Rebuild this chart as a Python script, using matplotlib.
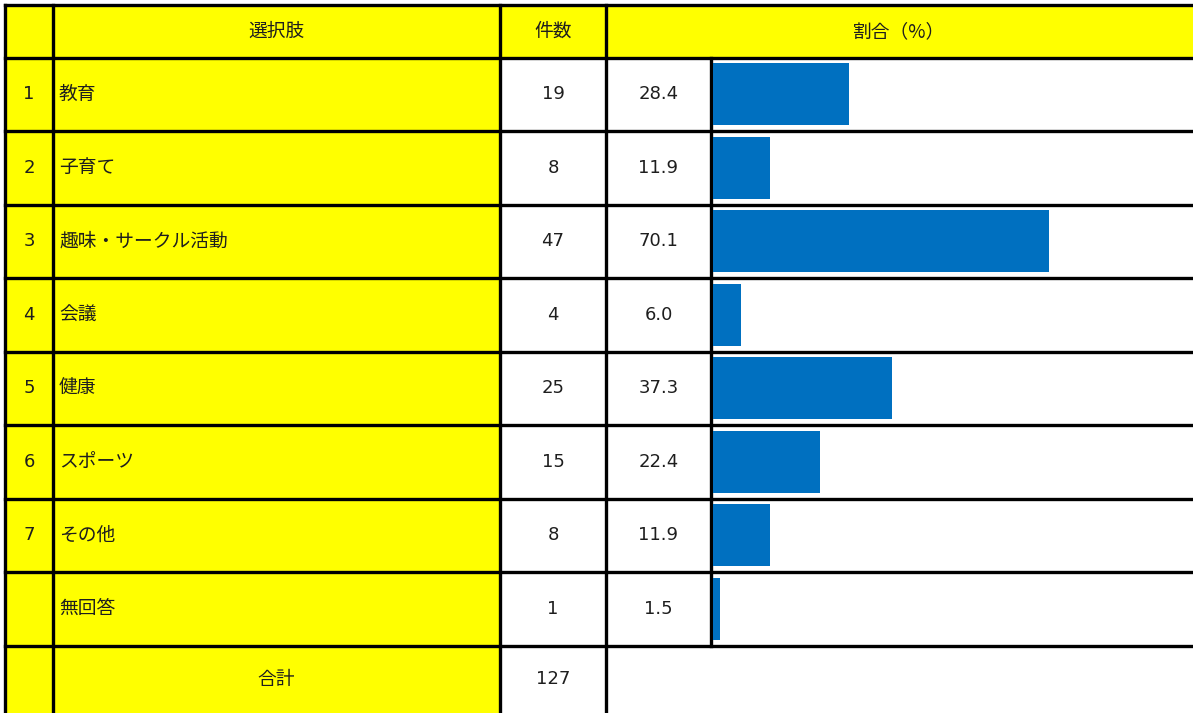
import matplotlib
matplotlib.use("Agg")
import matplotlib.pyplot as plt
from matplotlib.patches import Rectangle

plt.rcParams['font.family'] = ['Noto Sans CJK JP', 'DejaVu Sans']

# table data
headers = ['選択肢', '件数', '割合（%）']
nums = ['1', '2', '3', '4', '5', '6', '7', '']
labels = ['教育', '子育て', '趣味・サークル活動', '会議', '健康', 'スポーツ', 'その他', '無回答']
counts = [19, 8, 47, 4, 25, 15, 8, 1]
pcts = [28.4, 11.9, 70.1, 6.0, 37.3, 22.4, 11.9, 1.5]
total_label = '合計'
total_count = 127

W, H = 1193, 713
YELLOW = '#FFFF00'
BLUE = '#0070C0'
TXT = '#1e1e1e'
LW = 2.4
FS = 13.5
NUMFONT = ['DejaVu Sans']

# layout in pixels
col_x = [5, 53, 500, 606, 711, W + 5]
row_y = [5, 57.5] + [57.5 + 73.5 * (i + 1) for i in range(len(labels))] + [H + 5]
n = len(labels)

fig = plt.figure(figsize=(W / 100, H / 100), dpi=100)
ax = fig.add_axes([0, 0, 1, 1])
ax.set_xlim(0, W)
ax.set_ylim(H, 0)
ax.axis('off')

def cell(x0, x1, y0, y1, color):
    ax.add_patch(Rectangle((x0, y0), x1 - x0, y1 - y0, facecolor=color, edgecolor='none', zorder=1))

# backgrounds
cell(col_x[0], col_x[5], row_y[0], row_y[1], YELLOW)
for i in range(n + 1):
    cell(col_x[0], col_x[2], row_y[i + 1], row_y[i + 2], YELLOW)

# grid lines
lk = dict(color='black', lw=LW, zorder=5, solid_capstyle='projecting')
for k in range(n + 2):
    ax.plot([col_x[0], col_x[5]], [row_y[k], row_y[k]], **lk)
for c in range(4):
    ax.plot([col_x[c], col_x[c]], [row_y[0], H + 5], **lk)
ax.plot([col_x[4], col_x[4]], [row_y[1], row_y[n + 1]], **lk)

# texts
def mid(a, b):
    return (a + b) / 2

tk = dict(fontsize=FS, color=TXT, va='center', zorder=6)
nk = dict(tk, family=NUMFONT, fontsize=FS - 0.5)
hy = mid(row_y[0], row_y[1])
ax.text(mid(col_x[1], col_x[2]), hy, headers[0], ha='center', **tk)
ax.text(mid(col_x[2], col_x[3]), hy, headers[1], ha='center', **tk)
ax.text(mid(col_x[3], W), hy, headers[2], ha='center', **tk)
for i in range(n):
    yc = mid(row_y[i + 1], row_y[i + 2])
    ax.text(mid(col_x[0], col_x[1]), yc, nums[i], ha='center', **nk)
    ax.text(col_x[1] + 6, yc, labels[i], ha='left', **tk)
    ax.text(mid(col_x[2], col_x[3]), yc, str(counts[i]), ha='center', **nk)
    ax.text(mid(col_x[3], col_x[4]), yc, f'{pcts[i]:.1f}', ha='center', **nk)
yc = mid(row_y[n + 1], H)
ax.text(mid(col_x[1], col_x[2]), yc, total_label, ha='center', **tk)
ax.text(mid(col_x[2], col_x[3]), yc, str(total_count), ha='center', **nk)

# bar column
x0 = col_x[4] + 1.5
bx = fig.add_axes([x0 / W, 1 - row_y[n + 1] / H, (W - x0) / W, (row_y[n + 1] - row_y[1]) / H])
bx.set_xlim(0, 100)
bx.set_ylim(n - 0.5, -0.5)
bx.axis('off')
bx.barh(range(n), pcts, height=0.84, color=BLUE)

fig.savefig('out.png', dpi=100)
